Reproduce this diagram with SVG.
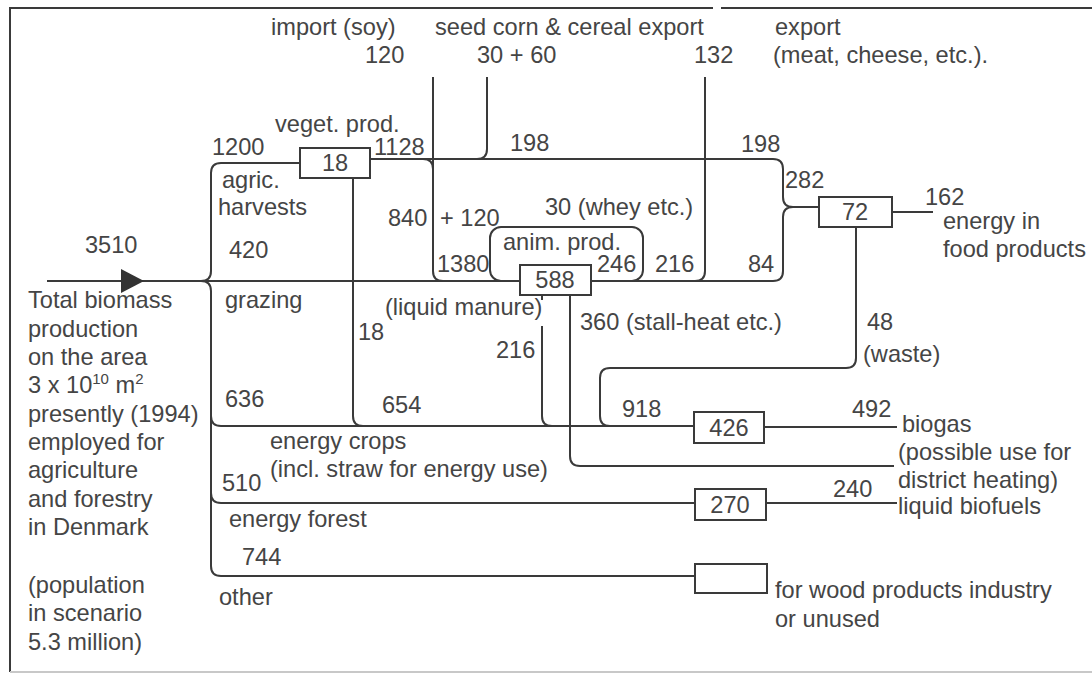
<svg xmlns="http://www.w3.org/2000/svg" width="1092" height="676" viewBox="0 0 1092 676">
<style>
text{font-family:"Liberation Sans",Arial,sans-serif;font-size:23.6px;fill:#454545}
.c{text-anchor:middle}
.ln{fill:none;stroke:#3a3a3a;stroke-width:2}
.bx{fill:#fff;stroke:#3a3a3a;stroke-width:2}
</style>
<rect width="1092" height="676" fill="#fff"/>
<g id="frame" class="ln">
<path d="M10,672 V8 H713 M721,8 H1092"/>
<path d="M10,672 H1092" stroke="#c8c8c8"/>
</g>
<g id="connectors" class="ln">
<path d="M47,281 H520"/>
<polygon points="121,269 144,281 121,293" fill="#333" stroke="none"/>
<path d="M300,163 H221 Q211,163 211,173 V271 Q211,281 201,281 Q211,281 211,291 V566 Q211,576 221,576 H695"/>
<path d="M211,416 Q211,426 221,426 H694"/>
<path d="M211,493 Q211,503 221,503 H695"/>
<path d="M370,159 H773 Q783,159 783,169 V197 Q783,207 793,207 Q783,207 783,217 V271 Q783,281 773,281 H591"/>
<path d="M793,207 H819"/>
<path d="M423,159 Q433,159 433,169"/>
<path d="M433,77 V271 Q433,281 443,281"/>
<path d="M487,77 V149 Q487,159 477,159"/>
<path d="M705,77 V271 Q705,281 695,281"/>
<rect x="490" y="227" width="153" height="54" rx="11"/>
<path d="M353,178 V416 Q353,426 363,426"/>
<path d="M542,295 V300 M542,326 V416 Q542,426 552,426"/>
<path d="M570,295 V456 Q570,466 580,466 H894"/>
<path d="M856,227 V358 Q856,368 846,368 H610 Q600,368 600,378 V416 Q600,426 610,426"/>
<path d="M764,427 H897"/>
<path d="M766,503 H897"/>
<path d="M892,212 H933"/>
</g>
<g id="n18"><rect class="bx" x="300" y="148" width="70" height="30"/><text class="c" x="335" y="171">18</text></g>
<g id="n588"><rect class="bx" x="520" y="265" width="71" height="30"/><text class="c" x="555" y="288">588</text></g>
<g id="n72"><rect class="bx" x="819" y="197" width="73" height="30"/><text class="c" x="855" y="220">72</text></g>
<g id="n426"><rect class="bx" x="694" y="412" width="70" height="31"/><text class="c" x="729" y="436">426</text></g>
<g id="n270"><rect class="bx" x="695" y="489" width="71" height="31"/><text class="c" x="730" y="513">270</text></g>
<g id="nwood"><rect class="bx" x="695" y="564" width="72" height="29"/></g>
<g id="labels">
<text x="271" y="35">import (soy)</text>
<text x="365" y="63">120</text>
<text x="435" y="35">seed corn &amp; cereal export</text>
<text x="477" y="63">30 + 60</text>
<text x="694" y="63">132</text>
<text x="775" y="35">export</text>
<text x="773" y="63">(meat, cheese, etc.).</text>
<text x="275" y="132">veget. prod.</text>
<text x="212" y="155">1200</text>
<text x="374" y="155">1128</text>
<text x="510" y="151">198</text>
<text x="741" y="152">198</text>
<text x="785" y="188">282</text>
<text x="925" y="205">162</text>
<text x="943" y="229">energy in</text>
<text x="943" y="257">food products</text>
<text x="222" y="188">agric.</text>
<text x="218" y="215">harvests</text>
<text x="229" y="258">420</text>
<text x="85" y="253">3510</text>
<text x="388" y="226">840</text>
<text x="440" y="226">+ 120</text>
<text x="545" y="215">30 (whey etc.)</text>
<text x="503" y="250">anim. prod.</text>
<text x="437" y="272">1380</text>
<text x="597" y="272">246</text>
<text x="655" y="272">216</text>
<text x="748" y="272">84</text>
<text x="225" y="308">grazing</text>
<text x="358" y="340">18</text>
<text x="385" y="315">(liquid manure)</text>
<text x="580" y="330">360 (stall-heat etc.)</text>
<text x="496" y="358">216</text>
<text x="867" y="330">48</text>
<text x="863" y="362">(waste)</text>
<text x="225" y="407">636</text>
<text x="382" y="413">654</text>
<text x="622" y="417">918</text>
<text x="852" y="417">492</text>
<text x="902" y="432">biogas</text>
<text x="898" y="460">(possible use for</text>
<text x="898" y="488">district heating)</text>
<text x="270" y="449">energy crops</text>
<text x="270" y="477">(incl. straw for energy use)</text>
<text x="222" y="491">510</text>
<text x="833" y="497">240</text>
<text x="898" y="514">liquid biofuels</text>
<text x="229" y="527">energy forest</text>
<text x="242" y="565">744</text>
<text x="219" y="605">other</text>
<text x="775" y="598">for wood products industry</text>
<text x="775" y="627">or unused</text>
<text x="28" y="308">Total biomass</text>
<text x="28" y="337">production</text>
<text x="28" y="365">on the area</text>
<text x="28" y="393">3 x 10<tspan font-size="15" dy="-9">10</tspan><tspan dy="9"> m</tspan><tspan font-size="15" dy="-9">2</tspan></text>
<text x="28" y="422">presently (1994)</text>
<text x="28" y="450">employed for</text>
<text x="28" y="478">agriculture</text>
<text x="28" y="507">and forestry</text>
<text x="28" y="535">in Denmark</text>
<text x="28" y="593">(population</text>
<text x="28" y="621">in scenario</text>
<text x="28" y="650">5.3 million)</text>
</g>
</svg>
